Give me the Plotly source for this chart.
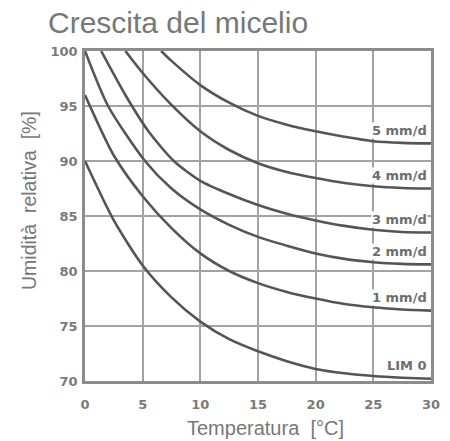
import plotly.graph_objects as go

# ---- data ----
x_ticks = [0, 5, 10, 15, 20, 25, 30]
y_ticks = [70, 75, 80, 85, 90, 95, 100]

labels = ["LIM 0", "1 mm/d", "2 mm/d", "3 mm/d", "4 mm/d", "5 mm/d"]

x_lim0 = [0, 2.5, 5, 7.5, 10, 12.5, 15, 17.5, 20, 22.5, 25, 27.5, 30]
y_lim0 = [90, 84.6, 80.5, 77.6, 75.4, 73.8, 72.7, 71.8, 71.1, 70.7, 70.45, 70.3, 70.2]

x_1mm = [0, 2.5, 5, 7.5, 10, 12.5, 15, 17.5, 20, 22.5, 25, 27.5, 30]
y_1mm = [96, 90.5, 86.8, 83.9, 81.6, 80.0, 78.9, 78.1, 77.5, 77.0, 76.7, 76.5, 76.4]

x_2mm = [0, 2, 5.2, 7.5, 10, 12.5, 15, 17.5, 20, 22.5, 25, 27.5, 30]
y_2mm = [100, 95, 90, 87.5, 85.6, 84.2, 83.1, 82.3, 81.6, 81.1, 80.8, 80.65, 80.6]

x_3mm = [1.4, 3.5, 5.5, 7.7, 10, 12.5, 15, 17.5, 20, 22.5, 25, 27.5, 30]
y_3mm = [100, 96, 92.7, 90, 88.2, 87.0, 86.0, 85.2, 84.6, 84.1, 83.75, 83.55, 83.5]

x_4mm = [3.5, 5, 7.5, 10, 12.5, 15, 17.5, 20, 22.5, 25, 27.5, 30]
y_4mm = [100, 98.0, 95.1, 92.7, 91.0, 89.8, 89.0, 88.45, 88.0, 87.7, 87.55, 87.5]

x_5mm = [6.6, 7.5, 10, 12.5, 15, 17.5, 20, 22.5, 25, 27.5, 30]
y_5mm = [100, 99.1, 96.9, 95.3, 94.1, 93.3, 92.7, 92.2, 91.8, 91.65, 91.6]

series_x = [x_lim0, x_1mm, x_2mm, x_3mm, x_4mm, x_5mm]
series_y = [y_lim0, y_1mm, y_2mm, y_3mm, y_4mm, y_5mm]

# ---- styling ----
CURVE = "#555555"
GRID = "#a3a3a3"
FRAME = "#8c8c8c"
TXT = "#777777"
TICKFONT = dict(family="DejaVu Sans", size=13, color="#7a7a7a")

fig = go.Figure()
for xs, ys, name in zip(series_x, series_y, labels):
    fig.add_trace(go.Scatter(
        x=xs, y=ys, mode="lines", name=name,
        line=dict(color=CURVE, width=2.6, shape="spline", smoothing=0.7),
        showlegend=False, hoverinfo="skip"))

for xs, ys, name in zip(series_x, series_y, labels):
    fig.add_annotation(
        x=29.7, y=ys[-1], text=f"<b>{name}</b>", showarrow=False,
        xanchor="right", yanchor="middle", yshift=13,
        font=dict(family="DejaVu Sans", size=13, color="#6e6e6e"),
        bgcolor="white", borderpad=0)

fig.update_layout(
    width=450, height=441,
    margin=dict(l=85, r=10, t=51, b=60),
    paper_bgcolor="white", plot_bgcolor="white",
    title=dict(text="Crescita del micelio", x=48 / 450, xref="container",
               xanchor="left", y=1, yref="container", yanchor="top",
               pad=dict(t=12),
               font=dict(family="Liberation Sans, Arial", size=30, color=TXT)),
)

fig.update_xaxes(
    range=[0, 30], tickvals=x_ticks, ticktext=[f"<b>{v}</b>" for v in x_ticks],
    showgrid=True, gridcolor=GRID, gridwidth=2,
    showline=True, linecolor=FRAME, linewidth=2.5, mirror=True,
    ticks="outside", ticklen=10, tickcolor="rgba(0,0,0,0)",
    tickfont=TICKFONT, zeroline=False, fixedrange=True)

fig.update_yaxes(
    range=[70, 100], tickvals=y_ticks, ticktext=[f"<b>{v}</b>" for v in y_ticks],
    showgrid=True, gridcolor=GRID, gridwidth=2,
    showline=True, linecolor=FRAME, linewidth=2.5, mirror=True,
    ticks="outside", ticklen=2, tickcolor="rgba(0,0,0,0)",
    tickfont=TICKFONT, zeroline=False, fixedrange=True)

# axis titles as annotations for precise placement
fig.add_annotation(
    text="Temperatura  [°C]", xref="paper", yref="paper",
    x=(270 - 85) / 355, y=0, yanchor="top", yshift=-34,
    showarrow=False, font=dict(family="Liberation Sans, Arial", size=20, color=TXT))
fig.add_annotation(
    text="Umidità  relativa  [%]", xref="paper", yref="paper",
    x=0, xanchor="center", xshift=-56, y=(381 - 201) / 330, textangle=-90,
    showarrow=False, font=dict(family="Liberation Sans, Arial", size=19.5, color=TXT))

fig.write_html(
    "out.html",
    config={"displayModeBar": False},
    post_script="document.body.style.margin='0';document.body.style.overflow='hidden';")
